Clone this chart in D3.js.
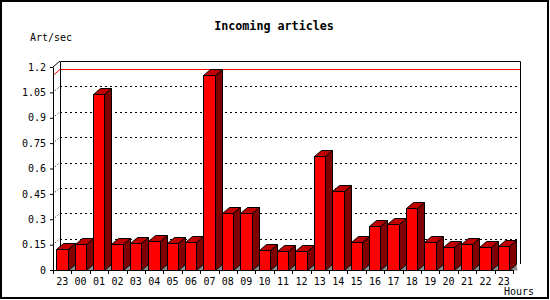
<!DOCTYPE html>
<html>
<head>
<meta charset="utf-8">
<script src="https://cdn.jsdelivr.net/npm/d3@7/dist/d3.min.js"></script>
<style>
  body { margin: 0; background: #fff; }
  text { font-family: "DejaVu Sans Mono", "Liberation Mono", monospace; fill: #000; }
</style>
</head>
<body>
<svg id="chart" width="550" height="300"></svg>
<script>
// data
var hours = ['23', '00', '01', '02', '03', '04', '05', '06', '07', '08', '09', '10', '11',
    '12', '13', '14', '15', '16', '17', '18', '19', '20', '21', '22', '23'];
var rates = [0.122, 0.154, 1.039, 0.154, 0.161, 0.169, 0.160, 0.166, 1.153, 0.335, 0.335, 0.116, 0.110,
    0.110, 0.674, 0.465, 0.164, 0.258, 0.272, 0.365, 0.164, 0.134, 0.152, 0.134, 0.140];
var yTicks = [0, 0.15, 0.3, 0.45, 0.6, 0.75, 0.9, 1.05, 1.2];
var title = 'Incoming articles';
var yTitle = 'Art/sec';
var xTitle = 'Hours';

var svg = d3.select('#chart');
// plot box (front plane); "top" is taken by window so use other names
var padL = 53, padR = 513, padT = 67, padB = 270;
var dx = 7, dy = 6; // depth of the 3d box

var x = d3.scaleBand().domain(d3.range(hours.length)).range([padL, padR]);
var y = d3.scaleLinear().domain([0, 1.2]).range([padB, padT]);

// frame
svg.append('rect').attr('x', 1).attr('y', 1).attr('width', 547).attr('height', 297)
    .attr('fill', '#fff').attr('stroke', '#000').attr('stroke-width', 2);

// title + axis names
svg.append('text').attr('x', 274).attr('y', 30).attr('text-anchor', 'middle')
    .style('font-size', '11.7px').style('font-weight', 'bold').text(title);
svg.append('text').attr('x', 30).attr('y', 41).style('font-size', '10px').text(yTitle);
svg.append('text').attr('x', 504).attr('y', 295).style('font-size', '10px').text(xTitle);

// back wall grid
var wall = svg.append('g').attr('class', 'wall');
wall.selectAll('line.grid').data(yTicks.slice(1, -1)).enter().append('line')
    .attr('class', 'grid')
    .attr('x1', padL + dx).attr('x2', padR + dx)
    .attr('y1', function (d) { return Math.round(y(d) - dy) + 0.5; })
    .attr('y2', function (d) { return Math.round(y(d) - dy) + 0.5; })
    .attr('stroke', '#000').attr('stroke-dasharray', '2,3');
// side wall slants
wall.selectAll('line.slant').data(yTicks.slice(1, -1)).enter().append('line')
    .attr('class', 'slant')
    .attr('x1', padL).attr('x2', padL + dx)
    .attr('y1', function (d) { return y(d); })
    .attr('y2', function (d) { return y(d) - dy; })
    .attr('stroke', '#000').attr('stroke-dasharray', '1,2');

// max line
var maxV = d3.max(rates);
var my = Math.round(y(maxV) - dy) + 0.5;
wall.append('line').attr('x1', padL + dx).attr('x2', padR + dx).attr('y1', my).attr('y2', my)
    .attr('stroke', '#f00');
wall.append('line').attr('x1', padL).attr('x2', padL + dx).attr('y1', my + dy).attr('y2', my)
    .attr('stroke', '#f00');

// wall outline
wall.append('path')
    .attr('d', 'M' + (padL + dx + 0.5) + ',' + (padB - dy) + 'V' + (padT - dy + 0.5) +
        'H' + (padR + dx + 0.5) + 'V' + (padB - dy))
    .attr('fill', 'none').attr('stroke', '#000');
wall.append('line').attr('x1', padL).attr('y1', padT).attr('x2', padL + dx).attr('y2', padT - dy)
    .attr('stroke', '#000');

// bars
var bw = x.bandwidth();
var bars = svg.append('g').attr('class', 'bars').selectAll('g').data(rates).enter().append('g');
bars.each(function (d, i) {
    var g = d3.select(this);
    var x0 = Math.round(x(i) + bw * 0.17) + 0.5;
    var x1 = Math.round(x(i) + bw * 0.79) + 0.5;
    var yv = Math.round(y(d)) + 0.5;
    var yb = padB + 0.5;
    g.append('path')
        .attr('d', 'M' + x1 + ',' + yb + 'L' + (x1 + dx) + ',' + (yb - dy) + 'L' + (x1 + dx + 1) + ',' + yb + 'Z')
        .attr('fill', '#8c8c8c');
    g.append('path')
        .attr('d', 'M' + x1 + ',' + yv + 'L' + (x1 + dx) + ',' + (yv - dy) + 'V' + (yb - dy) +
            'L' + x1 + ',' + yb + 'Z')
        .attr('fill', '#800000').attr('stroke', '#000');
    g.append('path')
        .attr('d', 'M' + x0 + ',' + yv + 'L' + (x0 + dx) + ',' + (yv - dy) + 'H' + (x1 + dx) +
            'L' + x1 + ',' + yv + 'Z')
        .attr('fill', '#c00000').attr('stroke', '#000');
    g.append('rect').attr('x', x0).attr('y', yv).attr('width', x1 - x0).attr('height', yb - yv)
        .attr('fill', '#ff0000').attr('stroke', '#000');
});

// y axis
var yAxis = d3.axisLeft(y).tickValues(yTicks).tickSize(3).tickSizeOuter(0)
    .tickFormat(function (d) { return String(d); });
var yg = svg.append('g').attr('transform', 'translate(' + padL + ',0)').call(yAxis);
yg.selectAll('text').style('font-size', '10px').attr('x', -7);

// x axis: labels at the centre, ticks on the band edges
var xAxis = d3.axisBottom(x).tickSize(0).tickSizeOuter(0)
    .tickFormat(function (i) { return hours[i]; });
var xg = svg.append('g').attr('transform', 'translate(0,' + padB + ')').call(xAxis);
xg.selectAll('text').style('font-size', '10px').attr('dy', '0').attr('y', 14.5);
xg.selectAll('line.edge').data(d3.range(hours.length + 1)).enter().append('line')
    .attr('class', 'edge')
    .attr('x1', function (i) { return Math.round(padL + i * bw) + 0.5; })
    .attr('x2', function (i) { return Math.round(padL + i * bw) + 0.5; })
    .attr('y1', 0).attr('y2', 4).attr('stroke', '#000');
svg.selectAll('.domain').attr('stroke', '#000');
svg.selectAll('.tick line').attr('stroke', '#000');
</script>
</body>
</html>
